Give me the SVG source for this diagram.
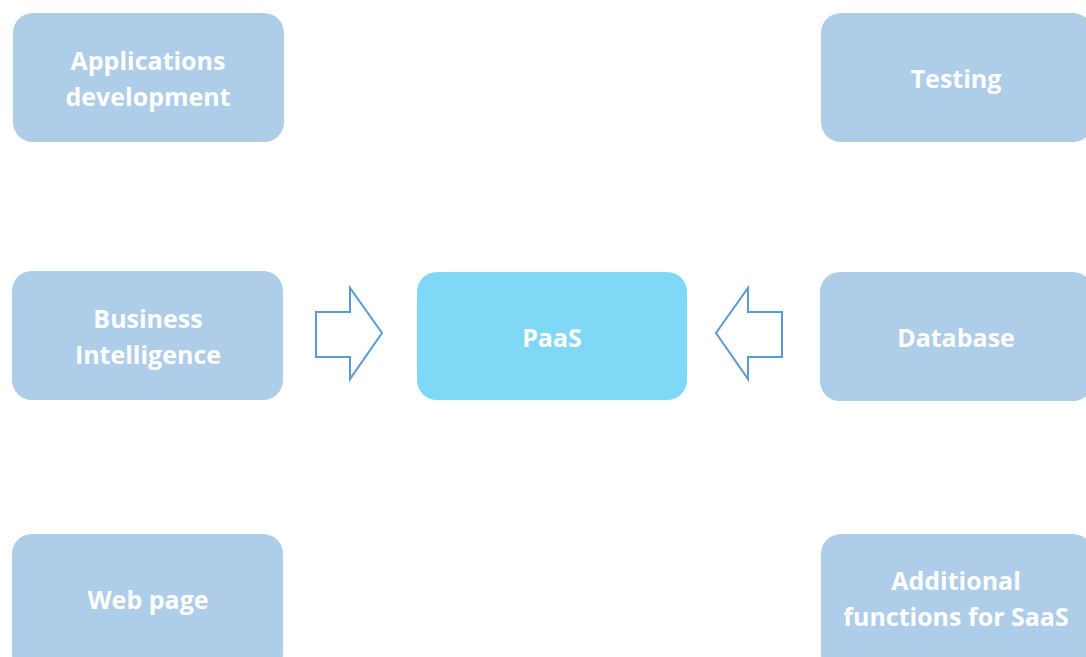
<svg xmlns="http://www.w3.org/2000/svg" width="1086" height="657" viewBox="0 0 1086 657">
  <style>
    .box { fill: #aecde9; }
    .core { fill: #80d8f7; }
    .label { font-family: "Open Sans", "Liberation Sans", sans-serif; font-weight: bold; font-size: 25px; fill: #ffffff; text-anchor: middle; }
    .arrow { fill: #ffffff; stroke: #5b9bd5; stroke-width: 2; stroke-linejoin: miter; }
  </style>
  <rect width="1086" height="657" fill="#ffffff"/>

  <g id="apps">
    <rect class="box" x="13" y="13" width="271" height="129" rx="20"/>
    <text class="label" x="148" y="70">Applications</text>
    <text class="label" x="148" y="106">development</text>
  </g>
  <g id="testing">
    <rect class="box" x="821" y="13" width="272" height="129" rx="20"/>
    <text class="label" x="956" y="88">Testing</text>
  </g>
  <g id="bi">
    <rect class="box" x="12" y="271" width="271" height="129" rx="20"/>
    <text class="label" x="148" y="328">Business</text>
    <text class="label" x="148" y="364">Intelligence</text>
  </g>
  <g id="paas">
    <rect class="core" x="417" y="272" width="270" height="128" rx="20"/>
    <text class="label" x="552" y="347">PaaS</text>
  </g>
  <g id="database">
    <rect class="box" x="820" y="272" width="273" height="129" rx="20"/>
    <text class="label" x="956" y="347">Database</text>
  </g>
  <g id="webpage">
    <rect class="box" x="12" y="534" width="271" height="140" rx="20"/>
    <text class="label" x="148" y="609">Web page</text>
  </g>
  <g id="additional">
    <rect class="box" x="821" y="534" width="272" height="140" rx="20"/>
    <text class="label" x="956" y="590">Additional</text>
    <text class="label" x="956" y="626">functions for SaaS</text>
  </g>

  <g id="connectors">
    <polygon class="arrow" points="316,312 350,312 350,288 382,333 350,379 350,357 316,357"/>
    <polygon class="arrow" points="782,312 748,312 748,288 716,333 748,379 748,357 782,357"/>
  </g>
</svg>
